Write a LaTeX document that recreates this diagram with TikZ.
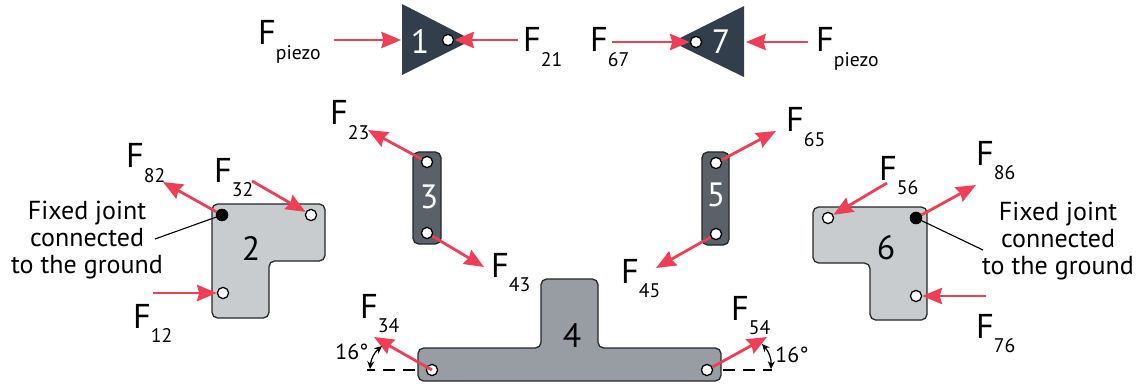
\documentclass[tikz,border=0pt]{standalone}
\usepackage{fontspec}
\setmainfont{PT Sans}
\usepackage{tikz}
\usetikzlibrary{arrows.meta,positioning,calc}
\definecolor{darklink}{HTML}{323E4B}
\definecolor{midlink}{HTML}{5A6169}
\definecolor{greylink}{HTML}{979DA3}
\definecolor{lightlink}{HTML}{C9CCCF}
\definecolor{forcered}{HTML}{EE3F56}
\newcommand{\fsub}[1]{F\raisebox{-10pt}{\fontsize{14}{14}\selectfont #1}}
\tikzset{
  linkbody/.style={draw=black!85, line width=0.9pt, rounded corners=4pt},
  hole/.style={circle, draw=black, fill=white, line width=0.9pt, minimum size=0.28cm, inner sep=0pt},
  fixedhole/.style={circle, draw=black, fill=black, minimum size=0.3cm, inner sep=0pt},
  force/.style={draw=forcered, line width=2pt, -{Stealth[length=14pt,width=11.5pt,inset=1.5pt]}},
  flabel/.style={anchor=base west, inner sep=0pt, xshift=-1.5pt, font=\fontsize{24.5}{24.5}\selectfont},
  numlabel/.style={inner sep=0pt, font=\fontsize{24}{24}\selectfont},
  smalllabel/.style={inner sep=0pt, font=\fontsize{15.5}{15.5}\selectfont},
  notelabel/.style={inner sep=0pt, align=center, font=\fontsize{18.5}{19.5}\selectfont},
  leader/.style={draw=black, line width=0.8pt},
  angledash/.style={draw=black, line width=0.8pt, dash pattern=on 8.5pt off 5.7pt},
  anglearc/.style={draw=black, line width=0.9pt, {Stealth[length=5.5pt,width=5pt]}-{Stealth[length=5.5pt,width=5pt]}}
}
\begin{document}
\begin{tikzpicture}[x=0.025cm,y=-0.025cm]
    \useasboundingbox (0,0) rectangle (1140,387);

    % --- Link 1: input wedge ---
    \fill[darklink] (402,4) -- (472,40) -- (402,75) -- cycle;
    \node[hole] (j1) at (448,40) {};
    \node[numlabel, text=white] (n1) at (420,41) {1};
    \coordinate (a1) at (334,40);
    \coordinate (b1) at (401,40);
    \coordinate (c1) at (518,40);
    \node[flabel] (fpl) at (260,45) {F\raisebox{-10pt}{\fontsize{14}{14}\selectfont piezo}};
    \node[flabel] (f21) at (525,52) {\fsub{21}};
    \draw[force] (a1) -- (b1);
    \draw[force] (c1) -- (j1);

    % --- Link 7: input wedge ---
    \fill[darklink] (744,6) -- (672,42) -- (744,77) -- cycle;
    \node[hole] (j7) at (696,42) {};
    \node[numlabel, text=white] (n7) at (721,42) {7};
    \coordinate (a7) at (612,42);
    \coordinate (b7) at (808,42);
    \coordinate (c7) at (746,42);
    \node[flabel] (f67) at (592,52) {\fsub{67}};
    \node[flabel] (fpr) at (818,52) {F\raisebox{-10pt}{\fontsize{14}{14}\selectfont piezo}};
    \draw[force] (a7) -- (j7);
    \draw[force] (b7) -- (c7);

    % --- Link 2 ---
    \draw[linkbody, fill=lightlink] (212,204) -- (325,204) -- (325,261) -- (269,261) -- (269,318) -- (212,318) -- cycle;
    \node[fixedhole] (j82) at (222,215) {};
    \node[hole] (j32) at (311,215) {};
    \node[hole] (j12) at (223,293) {};
    \node[numlabel] (n2) at (251,248) {2};
    \coordinate (a82) at (163,182);
    \coordinate (a32) at (252,181);
    \coordinate (a12) at (153,293);
    \coordinate (l2) at (155,239);
    \node[flabel] (f82) at (128,168) {\fsub{82}};
    \node[flabel] (f32) at (216,182) {\fsub{32}};
    \node[flabel] (f12) at (135,328) {\fsub{12}};
    \node[notelabel] (t2) at (87,240) {Fixed joint\\connected\\to the ground};
    \draw[force] (j82) -- (a82);
    \draw[force] (a32) -- (j32);
    \draw[force] (a12) -- (j12);
    \draw[leader] (l2) -- (j82);

    % --- Link 3 ---
    \draw[linkbody, fill=midlink] (413,152) rectangle (441,244);
    \node[hole] (j23) at (427,162) {};
    \node[hole] (j43) at (427,233) {};
    \node[numlabel, text=white] (n3) at (429,197) {3};
    \coordinate (a23) at (368,130);
    \coordinate (a43) at (484,267);
    \node[flabel] (f23) at (332,125) {\fsub{23}};
    \node[flabel] (f43) at (493,277) {\fsub{43}};
    \draw[force] (j23) -- (a23);
    \draw[force] (j43) -- (a43);

    % --- Link 5 ---
    \draw[linkbody, fill=midlink] (702,152) rectangle (729,245);
    \node[hole] (j65) at (716,163) {};
    \node[hole] (j45) at (716,234) {};
    \node[numlabel, text=white] (n5) at (716,195) {5};
    \coordinate (a65) at (776,131);
    \coordinate (a45) at (656,268);
    \node[flabel] (f65) at (788,132) {\fsub{65}};
    \node[flabel] (f45) at (623,283) {\fsub{45}};
    \draw[force] (j65) -- (a65);
    \draw[force] (j45) -- (a45);

    % --- Link 4 ---
    \draw[linkbody, fill=greylink] (418,348) -- (541,348) -- (541,279) -- (598,279) -- (598,348) -- (721,348) -- (721,381) -- (418,381) -- cycle;
    \node[hole] (j34) at (432,370) {};
    \node[hole] (j54) at (707,370) {};
    \node[numlabel] (n4) at (572,336) {4};
    \coordinate (a34) at (374,337);
    \coordinate (a54) at (767,337);
    \node[flabel] (f34) at (362,318) {\fsub{34}};
    \node[flabel] (f54) at (733,320) {\fsub{54}};
    \draw[force] (j34.center) -- (a34);
    \draw[force] (j54) -- (a54);

    % Angles
    \coordinate (d34a) at (415,370);
    \coordinate (d34b) at (367,370);
    \coordinate (d54a) at (723,370);
    \coordinate (d54b) at (772,370);
    \coordinate (s34) at (370,369);
    \coordinate (s54) at (771,369);
    \coordinate (e34) at (382,346);
    \coordinate (e54) at (762,344);
    \draw[angledash] (d34a) -- (d34b);
    \draw[angledash] (d54a) -- (d54b);
    \draw[anglearc] (s34) to[bend left=22] (e34);
    \draw[anglearc] (s54) to[bend right=22] (e54);
    \node[smalllabel] (ang34) at (352,352) {16°};
    \node[smalllabel] (ang54) at (792,355) {16°};

    % --- Link 6 ---
    \draw[linkbody, fill=lightlink] (813,207) -- (927,207) -- (927,320) -- (870,320) -- (870,263) -- (813,263) -- cycle;
    \node[fixedhole] (j86) at (916,218) {};
    \node[hole] (j56) at (828,218) {};
    \node[hole] (j76) at (916,296) {};
    \node[numlabel] (n6) at (886,248) {6};
    \coordinate (a56) at (887,183);
    \coordinate (a86) at (976,185);
    \coordinate (a76) at (986,296);
    \coordinate (l6) at (983,250);
    \node[flabel] (f56) at (881,180) {\fsub{56}};
    \node[flabel] (f86) at (978,165) {\fsub{86}};
    \node[flabel] (f76) at (978,338) {\fsub{76}};
    \node[notelabel] (t6) at (1058,241) {Fixed joint\\connected\\to the ground};
    \draw[force] (a56) -- (j56);
    \draw[force] (j86) -- (a86);
    \draw[force] (a76) -- (j76);
    \draw[leader] (l6) -- (j86);
\end{tikzpicture}
\end{document}
